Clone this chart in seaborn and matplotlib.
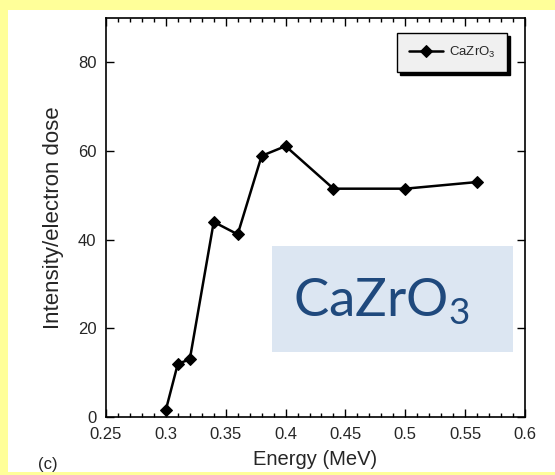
import matplotlib
matplotlib.use("Agg")
import matplotlib.pyplot as plt
from matplotlib.patches import Rectangle
from matplotlib.ticker import MultipleLocator
import seaborn as sns
import pandas as pd

energy = [0.30, 0.31, 0.32, 0.34, 0.36, 0.38, 0.40, 0.44, 0.50, 0.56]
intensity = [1.6, 12.0, 13.0, 44.0, 41.2, 58.9, 61.1, 51.5, 51.5, 53.0]
series_name = "CaZrO$_3$"
x_ticks = [0.25, 0.3, 0.35, 0.4, 0.45, 0.5, 0.55, 0.6]
x_tick_labels = ["0.25", "0.3", "0.35", "0.4", "0.45", "0.5", "0.55", "0.6"]
y_ticks = [0, 20, 40, 60, 80]

sns.set_style("ticks")
plt.rcParams['font.family'] = ['Liberation Sans', 'DejaVu Sans']
plt.rcParams['mathtext.default'] = 'regular'

W, H = 555, 475
YEL = "#ffff99"
fig = plt.figure(figsize=(W / 100, H / 100), dpi=100, facecolor="white")
# yellow border bands (left, top, bottom)
for (x0, y0, w, h) in [(0, 0, 8 / W, 1), (0, 1 - 10 / H, 1, 10 / H), (0, 0, 1, 3 / H)]:
    fig.patches.append(Rectangle((x0, y0), w, h, transform=fig.transFigure,
                                 facecolor=YEL, edgecolor="none", zorder=-5))

ax = fig.add_axes([106 / W, 1 - 417 / H, (525 - 106) / W, (417 - 18) / H])
df = pd.DataFrame({"Energy": energy, "Intensity": intensity, "s": series_name})
sns.lineplot(data=df, x="Energy", y="Intensity", hue="s", palette=["black"],
             marker="D", markersize=6, linewidth=1.8, markeredgecolor="black",
             ax=ax)

ax.set_xlim(0.25, 0.6)
ax.set_ylim(0, 90)
ax.set_xticks(x_ticks)
ax.set_xticklabels(x_tick_labels)
ax.set_yticks(y_ticks)
ax.xaxis.set_minor_locator(MultipleLocator(0.01))
ax.tick_params(axis="both", which="both", direction="in", top=True, right=True,
               labelsize=12, color="black", width=1.0)
ax.tick_params(axis="both", which="major", length=6, pad=7)
ax.tick_params(axis="x", which="minor", length=3)
for s in ax.spines.values():
    s.set_linewidth(1.2)
    s.set_color("black")
    s.set_visible(True)

ax.set_xlabel("Energy (MeV)", fontsize=14.5, labelpad=6)
ax.set_ylabel("Intensity/electron dose", fontsize=16, labelpad=10)

leg = ax.legend(loc="upper right", bbox_to_anchor=(507 / W, 1 - 33 / H),
                bbox_transform=fig.transFigure, fontsize=9.5, frameon=True,
                fancybox=False, shadow={"color": "black", "alpha": 1.0},
                handlelength=2.6, borderpad=0.9, borderaxespad=0,
                handletextpad=0.4)
leg.get_frame().set_facecolor("#f0f0f0")
leg.get_frame().set_edgecolor("black")
leg.get_frame().set_linewidth(1.0)

fig.text(48 / W, 1 - 465 / H, "(c)", fontsize=12, ha="center", va="center")

# overlay label box
fig.patches.append(Rectangle((272 / W, 1 - 352 / H), 241 / W, 106 / H,
                             transform=fig.transFigure, facecolor="#dce6f2",
                             edgecolor="none", zorder=5))
fig.text(293 / W, 1 - 317 / H, "CaZrO$_3$", fontsize=38, color="#1f497d",
         family=["Lato", "DejaVu Sans"], ha="left", va="baseline", zorder=6)

fig.savefig("out.png", dpi=100, facecolor=fig.get_facecolor())
